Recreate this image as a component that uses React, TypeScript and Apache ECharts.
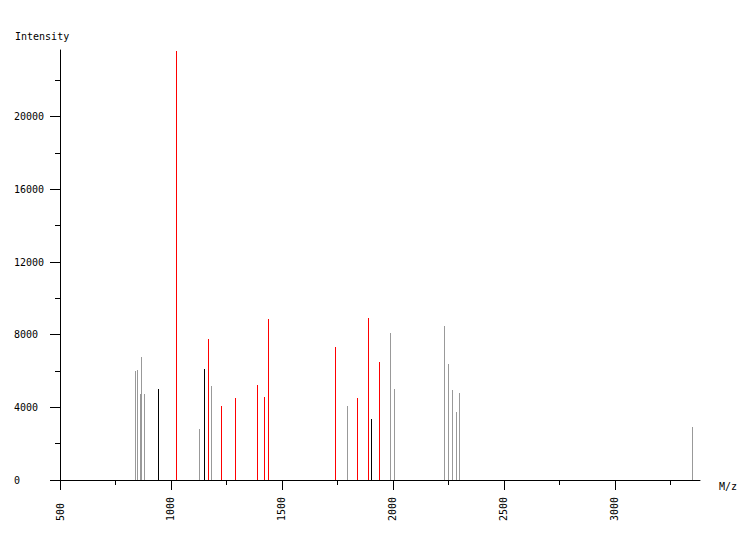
import React, { useEffect, useRef } from "react";
import * as echarts from "echarts";

// Peak data (m/z, intensity)
const grayMz = [837, 846, 859.6, 864, 877.6, 1125.5, 1179.5, 1792.4, 1986, 2004, 2229.5, 2247.5, 2265.5, 2283.5, 2297, 3347];
const grayIntensity = [6000, 6050, 4720, 6770, 4720, 2810, 5170, 4070, 8090, 5010, 8480, 6390, 4950, 3740, 4790, 2920];

const blackMz = [942.5, 1148, 1900.5];
const blackIntensity = [5010, 6110, 3360];

const redMz = [1021.8, 1166, 1224.6, 1287.7, 1386.8, 1418, 1436.4, 1738.3, 1839, 1887, 1936.6];
const redIntensity = [23600, 7760, 4070, 4510, 5230, 4570, 8860, 7320, 4510, 8920, 6500];

const xMajorTicks = [500, 1000, 1500, 2000, 2500, 3000];
const xMinorTicks = [750, 1250, 1750, 2250, 2750, 3250];
const yMajorTicks = [0, 4000, 8000, 12000, 16000, 20000];
const yMinorTicks = [2000, 6000, 10000, 14000, 18000, 22000];

const X_MIN = 500;
const X_MAX = 3384;
const Y_MAX = 23670;

const FONT = "DejaVu Sans Mono";

function pairs(xs: number[], ys: number[]) {
  return xs.map((x, i) => [x, ys[i]]);
}

function stickSeries(name: string, data: number[][], color: string) {
  return {
    type: "custom",
    name,
    xAxisIndex: 0,
    yAxisIndex: 0,
    data,
    encode: { x: 0, y: 1 },
    renderItem: (params: any, api: any) => {
      const base = api.coord([api.value(0), 0]);
      const top = api.coord([api.value(0), api.value(1)]);
      const x = Math.round(base[0]) + 0.5;
      return {
        type: "line",
        shape: { x1: x, y1: base[1], x2: x, y2: Math.round(top[1]) },
        style: { stroke: color, lineWidth: 1 },
      };
    },
  };
}

export default function App() {
  const ref = useRef<HTMLDivElement>(null);
  useEffect(() => {
    if (!ref.current) return;
    document.body.style.margin = "0";
    const chart = echarts.init(ref.current, null, { renderer: "svg" });
    const axisBase = {
      type: "value",
      splitLine: { show: false },
    };
    const fmt = (v: number) => String(v);
    chart.setOption({
      animation: false,
      backgroundColor: "#ffffff",
      textStyle: { fontFamily: FONT },
      grid: { left: 60, right: 50, top: 50, bottom: 60, containLabel: false },
      xAxis: [
        {
          ...axisBase,
          position: "bottom",
          min: X_MIN,
          max: X_MAX,
          axisLine: { show: true, onZero: false, lineStyle: { color: "#000", width: 1 } },
          axisTick: { show: true, length: 10, customValues: xMajorTicks, lineStyle: { color: "#000" } },
          axisLabel: {
            show: true,
            customValues: xMajorTicks,
            formatter: fmt,
            rotate: 90,
            align: "left",
            verticalAlign: "middle",
            margin: 41,
            color: "#000",
            fontSize: 10,
            fontFamily: FONT,
          },
        },
        {
          ...axisBase,
          position: "bottom",
          min: X_MIN,
          max: X_MAX,
          axisLine: { show: false, onZero: false },
          axisTick: { show: true, length: 5, customValues: xMinorTicks, lineStyle: { color: "#000" } },
          axisLabel: { show: false },
        },
      ],
      yAxis: [
        {
          ...axisBase,
          position: "left",
          min: 0,
          max: Y_MAX,
          axisLine: { show: true, onZero: false, lineStyle: { color: "#000", width: 1 } },
          axisTick: { show: true, length: 10, customValues: yMajorTicks, lineStyle: { color: "#000" } },
          axisLabel: {
            show: true,
            customValues: yMajorTicks,
            formatter: fmt,
            align: "left",
            margin: 46,
            color: "#000",
            fontSize: 10,
            fontFamily: FONT,
          },
        },
        {
          ...axisBase,
          position: "left",
          min: 0,
          max: Y_MAX,
          axisLine: { show: false, onZero: false },
          axisTick: { show: true, length: 5, customValues: yMinorTicks, lineStyle: { color: "#000" } },
          axisLabel: { show: false },
        },
      ],
      graphic: [
        {
          type: "text",
          left: 15,
          top: 31,
          style: { text: "Intensity", fill: "#000", font: `10px "${FONT}"` },
        },
        {
          type: "text",
          left: 719,
          top: 481,
          style: { text: "M/z", fill: "#000", font: `10px "${FONT}"` },
        },
      ],
      series: [
        stickSeries("gray", pairs(grayMz, grayIntensity), "#999999"),
        stickSeries("black", pairs(blackMz, blackIntensity), "#000000"),
        stickSeries("red", pairs(redMz, redIntensity), "#ff0000"),
      ],
    });
    return () => chart.dispose();
  }, []);
  return <div ref={ref} style={{ width: 750, height: 540 }} />;
}
